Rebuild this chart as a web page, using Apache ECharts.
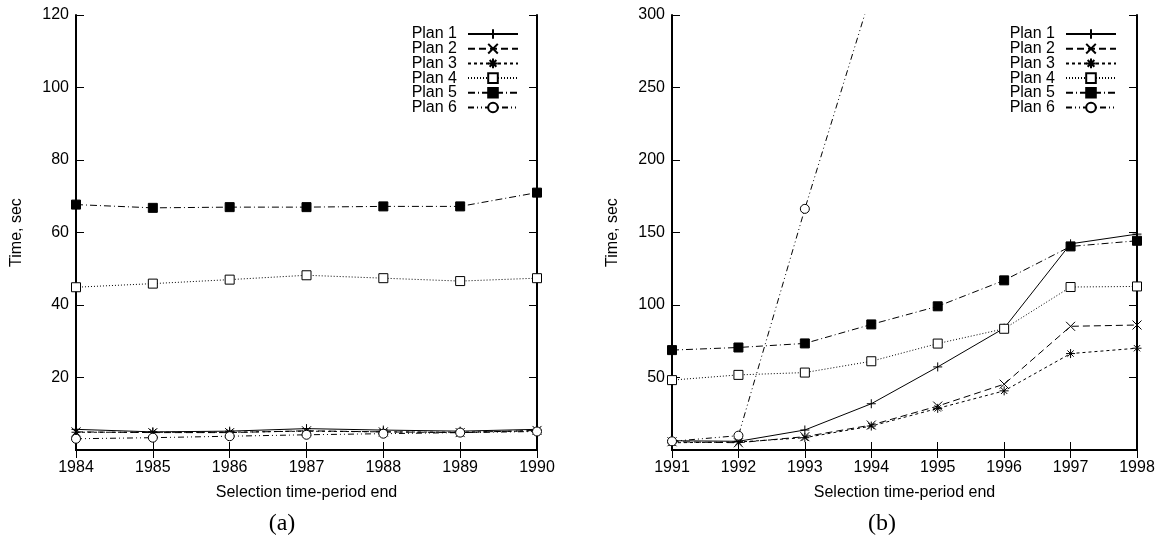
<!DOCTYPE html>
<html>
<head>
<meta charset="utf-8">
<script src="https://cdn.jsdelivr.net/npm/echarts@6/dist/echarts.min.js"></script>
<style>
  html, body { margin: 0; padding: 0; background: #fff; }
  #chart { width: 1159px; height: 540px; }
</style>
</head>
<body>
<div id="chart"></div>
<script>
// (a) data
const years_a = ['1984', '1985', '1986', '1987', '1988', '1989', '1990'];
const plan1_a = [5.7, 5.0, 5.2, 5.9, 5.5, 5.2, 5.7];
const plan2_a = [5.0, 4.8, 4.8, 5.3, 5.0, 4.8, 5.4];
const plan3_a = [4.9, 4.9, 4.9, 5.2, 5.0, 4.9, 5.3];
const plan4_a = [44.9, 45.9, 47.0, 48.2, 47.4, 46.6, 47.4];
const plan5_a = [67.7, 66.8, 67.0, 67.0, 67.2, 67.2, 71.0];
const plan6_a = [3.1, 3.4, 3.8, 4.2, 4.5, 4.8, 5.1];

// (b) data
const years_b = ['1991', '1992', '1993', '1994', '1995', '1996', '1997', '1998'];
const plan1_b = [6.4, 6.0, 13.8, 31.9, 57.3, 84.0, 142.2, 148.9];
const plan2_b = [5.7, 5.0, 9.2, 17.2, 30.3, 45.4, 85.3, 86.2];
const plan3_b = [5.0, 5.5, 8.5, 16.5, 28.7, 40.8, 66.5, 70.2];
const plan4_b = [48.2, 51.8, 53.4, 61.2, 73.4, 83.6, 112.4, 112.8];
const plan5_b = [68.9, 70.7, 73.5, 86.6, 99.1, 117.0, 140.4, 144.3];
const plan6_b = [6.0, 9.9, 166.3, 315, null, null, null, null];

const planNames = ['Plan 1', 'Plan 2', 'Plan 3', 'Plan 4', 'Plan 5', 'Plan 6'];
const yTicks_a = { max: 120, step: 20 };
const yTicks_b = { max: 300, step: 50 };

const FONT = '"Liberation Sans", Arial, Helvetica, sans-serif';

// gnuplot-like point types and dash patterns
const planStyle = [
  { symbol: 'path://M0,5H10M5,0V10', fill: '#000', dash: 'solid' },
  { symbol: 'path://M0,0L10,10M10,0L0,10', fill: '#000', dash: [7, 4] },
  { symbol: 'path://M0,5H10M5,0V10M1.5,1.5L8.5,8.5M8.5,1.5L1.5,8.5', fill: '#000', dash: [3, 3] },
  { symbol: 'rect', fill: '#fff', dash: [1, 2] },
  { symbol: 'rect', fill: '#000', dash: [7, 3, 1, 3] },
  { symbol: 'circle', fill: '#fff', dash: [6, 3, 1, 3, 1, 3] }
];

function makeSeries(name, data, idx, style) {
  return {
    name: name,
    type: 'line',
    data: data,
    xAxisIndex: idx * 2,
    yAxisIndex: idx * 2,
    symbol: style.symbol,
    symbolSize: 9,
    showAllSymbol: true,
    clip: true,
    connectNulls: false,
    lineStyle: { color: '#000', width: 1, type: style.dash },
    itemStyle: { color: style.fill, borderColor: '#000', borderWidth: 1 },
    emphasis: { disabled: true }
  };
}

function xAxes(data, grid) {
  let base = {
    type: 'category',
    data: data,
    gridIndex: grid,
    boundaryGap: false,
    axisLine: { lineStyle: { color: '#000', width: 2 } },
    axisTick: { inside: true, length: 8, interval: 0, lineStyle: { color: '#000', width: 1 } },
    splitLine: { show: false }
  };
  return [
    Object.assign({}, base, {
      position: 'bottom',
      name: 'Selection time-period end',
      nameLocation: 'middle',
      nameGap: 35,
      nameTextStyle: { color: '#000', fontSize: 16, fontFamily: FONT },
      axisLabel: { color: '#000', fontSize: 16, fontFamily: FONT, margin: 10, interval: 0 }
    }),
    Object.assign({}, base, { position: 'top', axisLabel: { show: false } })
  ];
}

function yAxes(ticks, grid) {
  let base = {
    type: 'value',
    gridIndex: grid,
    min: 0,
    max: ticks.max,
    interval: ticks.step,
    axisLine: { show: true, lineStyle: { color: '#000', width: 2 } },
    axisTick: { show: true, inside: true, length: 8, lineStyle: { color: '#000', width: 1 } },
    splitLine: { show: false }
  };
  return [
    Object.assign({}, base, {
      position: 'left',
      name: 'Time, sec',
      nameLocation: 'middle',
      nameGap: 51,
      nameTextStyle: { color: '#000', fontSize: 16, fontFamily: FONT },
      axisLabel: { color: '#000', fontSize: 16, fontFamily: FONT, margin: 7, showMinLabel: false }
    }),
    Object.assign({}, base, { position: 'right', axisLabel: { show: false } })
  ];
}

function makeLegend(right) {
  return {
    orient: 'vertical',
    right: right,
    top: 26,
    padding: 0,
    align: 'right',
    itemWidth: 50,
    itemHeight: 12,
    itemGap: -1.3,
    selectedMode: false,
    data: planNames,
    textStyle: { color: '#000', fontSize: 16, fontFamily: FONT, padding: [0, 6, 0, 0] }
  };
}

let dataA = [plan1_a, plan2_a, plan3_a, plan4_a, plan5_a, plan6_a];
let dataB = [plan1_b, plan2_b, plan3_b, plan4_b, plan5_b, plan6_b];

let series = [];
planNames.forEach((n, i) => { series.push(makeSeries(n, dataA[i], 0, planStyle[i])); });
planNames.forEach((n, i) => { series.push(makeSeries(n, dataB[i], 1, planStyle[i])); });

let captionFont = '24px "Liberation Serif", "Times New Roman", serif';

let myChart = echarts.init(document.getElementById('chart'));
let option = {
  animation: false,
  backgroundColor: '#fff',
  grid: [
    { left: 76, right: 622, top: 15, bottom: 90 },
    { left: 672, right: 22, top: 15, bottom: 90 }
  ],
  legend: [makeLegend(640), makeLegend(42)],
  xAxis: xAxes(years_a, 0).concat(xAxes(years_b, 1)),
  yAxis: yAxes(yTicks_a, 0).concat(yAxes(yTicks_b, 1)),
  series: series,
  graphic: [
    { type: 'text', x: 282, y: 524, style: { text: '(a)', fill: '#000', font: captionFont, align: 'center', verticalAlign: 'middle' } },
    { type: 'text', x: 882, y: 524, style: { text: '(b)', fill: '#000', font: captionFont, align: 'center', verticalAlign: 'middle' } }
  ]
};
myChart.setOption(option);
</script>
</body>
</html>
